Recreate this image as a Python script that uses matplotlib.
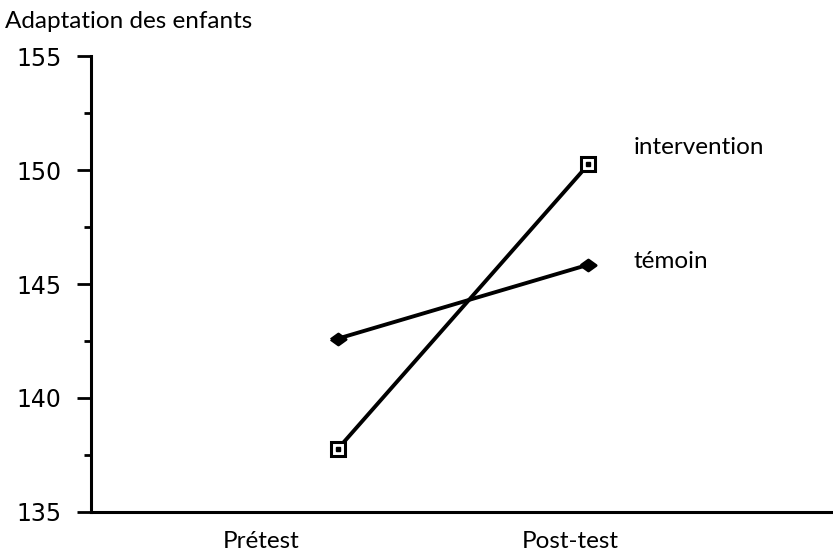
import numpy as np
import matplotlib.pyplot as plt
from matplotlib.ticker import MultipleLocator

# data
phases = ["Prétest", "Post-test"]
intervention = [137.75, 150.25]
temoin = [142.6, 145.85]
series_names = ["intervention", "témoin"]

fig = plt.figure(figsize=(8.33, 5.57), dpi=100)
ax = fig.add_axes([0.109, 0.081, 0.891, 0.818])

# flattened diamond like the original
diamond = [(-1, 0), (0, 0.72), (1, 0), (0, -0.72), (-1, 0)]

x = np.arange(len(phases))
ax.plot(x, intervention, color='black', lw=2.8, marker='s', ms=10,
        mfc='white', mec='black', mew=2.2, zorder=3)
ax.plot(x, intervention, ls='none', marker='s', ms=2.3, color='black', zorder=4)
ax.plot(x, temoin, color='black', lw=2.8, marker=diamond, ms=11,
        mfc='black', mec='black', mew=2, zorder=3)

ax.set_xlim(-0.984, 1.976)
ax.set_ylim(135, 155)
ax.yaxis.set_major_locator(MultipleLocator(5))
ax.yaxis.set_minor_locator(MultipleLocator(2.5))
ax.tick_params(axis='y', which='major', length=10, width=2, direction='out',
               pad=11, labelsize=17)
ax.tick_params(axis='y', which='minor', length=5, width=2, direction='out')
for lbl in ax.get_yticklabels():
    lbl.set_fontfamily('DejaVu Sans')

# category labels sit a little left of the points
label_pos = [-0.304, 0.928]
ax.set_xticks(label_pos)
ax.set_xticklabels(phases, fontfamily='Lato', fontsize=17.5)
ax.tick_params(axis='x', length=0, pad=14)

for sp in ['top', 'right']:
    ax.spines[sp].set_visible(False)
ax.spines['left'].set_linewidth(2.2)
ax.spines['bottom'].set_linewidth(2.2)

ax.text(x[1] + 0.18, intervention[-1] + 0.75, series_names[0],
        fontfamily='Lato', fontsize=17.5, va='center', ha='left')
ax.text(x[1] + 0.18, temoin[-1] + 0.15, series_names[1],
        fontfamily='Lato', fontsize=17.5, va='center', ha='left')

fig.text(0.006, 0.962, "Adaptation des enfants", fontfamily='Lato',
         fontsize=17.5, va='center', ha='left')

fig.savefig('out.png', dpi=100)
